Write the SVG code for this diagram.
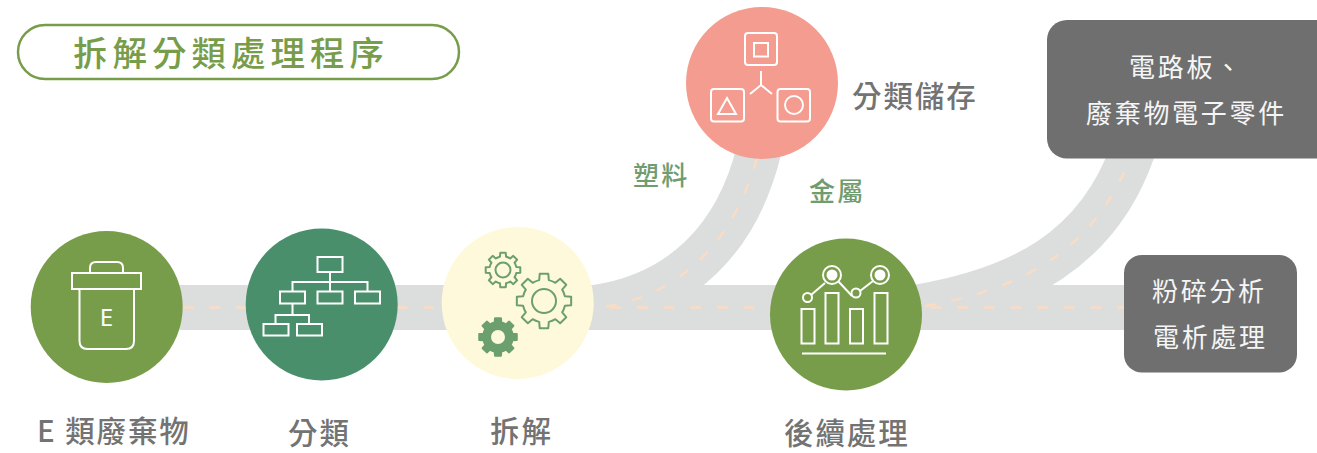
<svg xmlns="http://www.w3.org/2000/svg" width="1317" height="453" viewBox="0 0 1317 453">
<style>
text{font-family:"Noto Sans CJK TC","Noto Sans CJK SC",sans-serif}
.road{fill:none;stroke:#dcdedd;stroke-width:45}
.lane{fill:none;stroke:#fbdcc3;stroke-width:2.4;stroke-dasharray:10.5 16.2}
.ic{fill:none;stroke:#fff;stroke-width:2}
.gear{fill:none;stroke:#6b9f6e;stroke-width:2;stroke-linejoin:round}
.step{font-size:29.5px;font-weight:500;fill:#737373;letter-spacing:1.9px}
.mat{font-size:26px;font-weight:500;fill:#6f9d6f;letter-spacing:2.2px}
.box{font-size:26px;fill:#f5f5f5;letter-spacing:2.7px}
</style>
<defs>
<path id="gearShape" vector-effect="non-scaling-stroke" d="M76 -17.5L98.8 -15.6L98.8 15.6L76 17.5A78 78 0 0 1 66.1 41.4L80.9 58.8L58.8 80.9L41.4 66.1A78 78 0 0 1 17.5 76L15.6 98.8L-15.6 98.8L-17.5 76A78 78 0 0 1 -41.4 66.1L-58.8 80.9L-80.9 58.8L-66.1 41.4A78 78 0 0 1 -76 17.5L-98.8 15.6L-98.8 -15.6L-76 -17.5A78 78 0 0 1 -66.1 -41.4L-80.9 -58.8L-58.8 -80.9L-41.4 -66.1A78 78 0 0 1 -17.5 -76L-15.6 -98.8L15.6 -98.8L17.5 -76A78 78 0 0 1 41.4 -66.1L58.8 -80.9L80.9 -58.8L66.1 -41.4A78 78 0 0 1 76 -17.5Z"/>
</defs>
<g id="connectors">
<path class="road" d="M180 307.500H1130"/>
<path class="road" d="M595 307.500C680 295 737 240 759 150"/>
<path class="road" d="M915 307.500C1020 290 1098 250 1133 150"/>
<path class="lane" d="M183 307.500H1125"/>
<path class="lane" d="M606 306.500C680 295 737 240 759 150"/>
<path class="lane" d="M925 306C1020 290 1098 250 1133 150"/>
</g>
<g id="title">
<rect x="18" y="25" width="441" height="54" rx="27" fill="#fff" stroke="#789d4a" stroke-width="2.500"/>
<text x="73" y="66" font-size="34.500" font-weight="500" fill="#789d4a" letter-spacing="5">拆解分類處理程序</text>
</g>
<g id="node-waste">
<circle cx="106.700" cy="307" r="76" fill="#789d4a"/>
<rect class="ic" x="72" y="273" width="69" height="16"/>
<path class="ic" d="M90 273V268Q90 262 96 262H117Q123 262 123 268V273"/>
<path class="ic" d="M79.500 289V341Q79.500 349 87.500 349H126Q134 349 134 341V289"/>
<text x="106.500" y="325.500" font-size="24" fill="#fff" text-anchor="middle" style="font-family:'Noto Sans',sans-serif">E</text>
<text class="step" x="37" y="442">E 類廢棄物</text>
</g>
<g id="node-sort">
<circle cx="321.700" cy="304.500" r="76" fill="#4a8f6b"/>
<g class="ic">
<rect x="317.500" y="257" width="25" height="15"/>
<path d="M330 272V291M292.500 291V282H367.500V291"/>
<rect x="280" y="291.500" width="25" height="12"/>
<rect x="317.500" y="291.500" width="25" height="12"/>
<rect x="355" y="291.500" width="25" height="12"/>
<path d="M292.500 303.500V315M275.500 324V315H309V324"/>
<rect x="263.500" y="324" width="25" height="11.500"/>
<rect x="297" y="324" width="25" height="11.500"/>
</g>
<text class="step" x="288" y="444">分類</text>
</g>
<g id="node-dismantle">
<circle cx="517.700" cy="303" r="76" fill="#fff9db"/>
<use href="#gearShape" class="gear" transform="translate(503 270) scale(.175)"/>
<circle class="gear" cx="503" cy="270" r="7.500"/>
<use href="#gearShape" class="gear" transform="translate(544 301) scale(.275)"/>
<circle class="gear" cx="544" cy="301" r="12"/>
<use href="#gearShape" fill="#6b9f6e" stroke="#6b9f6e" stroke-width="2" stroke-linejoin="round" transform="translate(498 337) scale(.19)"/>
<circle cx="498" cy="337" r="7" fill="#fff9db"/>
<text class="step" x="490" y="442">拆解</text>
</g>
<g id="node-followup">
<circle cx="846" cy="314.500" r="76" fill="#789d4a"/>
<g class="ic">
<rect x="801.500" y="309" width="13" height="34.500"/>
<rect x="825.500" y="293" width="13" height="50.500"/>
<rect x="850" y="309" width="13" height="34.500"/>
<rect x="874.500" y="293" width="13" height="50.500"/>
<path d="M802 353.500H886M811 295L825 283M838 281L852 296M860 291L873 281"/>
<circle cx="807.500" cy="297.500" r="4.500"/>
<circle cx="832" cy="275" r="9"/>
<circle cx="856" cy="293" r="4.500"/>
<circle cx="880" cy="275" r="9"/>
</g>
<circle cx="832" cy="275" r="5.500" fill="#fff"/>
<circle cx="880" cy="275" r="5.500" fill="#fff"/>
<text class="step" x="784" y="444">後續處理</text>
</g>
<g id="node-storage">
<circle cx="762" cy="83" r="76" fill="#f39c8f"/>
<g class="ic">
<rect x="745" y="33" width="32" height="32" rx="3"/>
<rect x="754" y="43" width="14" height="13.500"/>
<rect x="711" y="89" width="33" height="32.500" rx="3"/>
<path d="M727 98L736 114H718Z"/>
<rect x="777.500" y="89" width="32.500" height="32.500" rx="3"/>
<circle cx="794" cy="105" r="9"/>
<path d="M761 71V85M750 94L761 85L772 94"/>
</g>
<text class="step" x="852" y="107">分類儲存</text>
</g>
<g id="label-plastic"><text class="mat" x="633" y="185">塑料</text></g>
<g id="label-metal"><text class="mat" x="809" y="201">金屬</text></g>
<g id="node-board">
<rect x="1047" y="20" width="290" height="138.500" rx="20" fill="#6f6f6f"/>
<text class="box" x="1129" y="77">電路板、</text>
<text class="box" x="1086" y="123">廢棄物電子零件</text>
</g>
<g id="node-shred">
<rect x="1124" y="255" width="173" height="117.500" rx="18" fill="#6f6f6f"/>
<text class="box" x="1152" y="301">粉碎分析</text>
<text class="box" x="1153" y="347">電析處理</text>
</g>
</svg>
